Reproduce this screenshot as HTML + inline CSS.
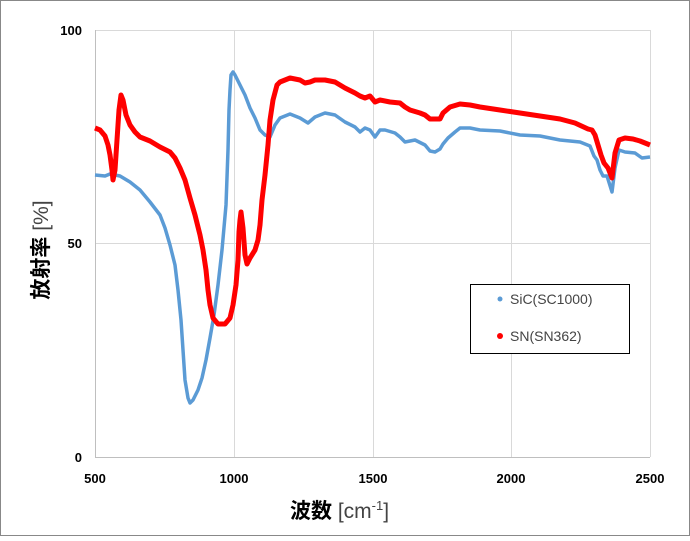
<!DOCTYPE html>
<html><head><meta charset="utf-8"><style>
body{margin:0;background:#fff}
svg text{font-family:"Liberation Sans","Noto Sans CJK JP",sans-serif}
</style></head><body>
<svg width="690" height="536" viewBox="0 0 690 536" xmlns="http://www.w3.org/2000/svg">
<rect x="0.5" y="0.5" width="689" height="535" fill="#fff" stroke="#888"/>
<g stroke="#d9d9d9" stroke-width="1">
<line x1="95" y1="30.5" x2="650" y2="30.5"/>
<line x1="95" y1="243.5" x2="650" y2="243.5"/>
<line x1="234.5" y1="30" x2="234.5" y2="457"/>
<line x1="373.5" y1="30" x2="373.5" y2="457"/>
<line x1="511.5" y1="30" x2="511.5" y2="457"/>
<line x1="650.5" y1="30" x2="650.5" y2="457"/>
</g>
<line x1="95.5" y1="30" x2="95.5" y2="457" stroke="#bfbfbf"/>
<line x1="95" y1="457.5" x2="650" y2="457.5" stroke="#bfbfbf"/>
<g font-size="13" font-weight="bold" fill="#000">
<text x="82" y="35" text-anchor="end">100</text>
<text x="82" y="248" text-anchor="end">50</text>
<text x="82" y="462" text-anchor="end">0</text>
<text x="95" y="483" text-anchor="middle">500</text>
<text x="234" y="483" text-anchor="middle">1000</text>
<text x="373" y="483" text-anchor="middle">1500</text>
<text x="511" y="483" text-anchor="middle">2000</text>
<text x="650" y="483" text-anchor="middle">2500</text>
</g>
<text x="290" y="518" font-size="21" font-weight="bold">波数<tspan font-weight="normal" fill="#444"> [cm</tspan><tspan font-weight="normal" font-size="13" dy="-8" fill="#444">-1</tspan><tspan font-weight="normal" dy="8" fill="#444">]</tspan></text>
<text transform="translate(48,250) rotate(-90)" text-anchor="middle" font-size="21" font-weight="bold">放射率<tspan font-weight="normal" fill="#444"> [%]</tspan></text>
<polyline fill="none" stroke="#5b9bd5" stroke-width="3.5" stroke-linejoin="round" points="95,175 105,176 110,174 120,176 130,182 140,190 150,202 160,215 165,228 170,245 175,265 178,290 181,320 183,350 185,380 188,398 190,403 193,400 198,390 202,378 206,360 210,338 214,315 218,285 222,250 226,205 228,150 229,110 230,90 231,75 233,72 235,75 240,85 245,95 250,108 255,118 260,130 265,135 270,137 275,125 280,118 290,114 300,118 308,123 315,117 325,113 335,115 345,122 355,127 360,132 365,128 370,130 375,137 380,130 385,130 395,133 400,137 405,142 415,140 425,145 430,151 435,152 440,149 443,144 448,138 455,132 460,128 470,128 480,130 500,131 520,135 540,136 560,140 580,142 590,146 594,156 597,160 600,170 603,176 607,176 612,192 615,168 619,150 625,152 635,153 642,158 650,157"/>
<polyline fill="none" stroke="#ff0000" stroke-width="5" stroke-linejoin="round" points="95,128 100,130 105,136 108,145 110,155 112,170 113,180 115,170 117,140 119,110 121,95 123,100 126,115 130,125 135,132 140,137 150,141 160,147 170,152 175,158 180,168 185,180 190,198 195,215 200,235 203,250 206,270 208,290 210,305 213,318 218,324 225,324 230,318 233,305 236,285 238,260 239,232 240,220 241,212 243,228 245,255 247,264 250,258 255,250 258,240 260,225 262,200 265,175 268,145 270,120 273,100 277,85 280,82 290,78 300,80 305,83 310,82 315,80 325,80 335,82 345,88 355,93 360,96 365,98 370,96 375,102 380,100 390,102 400,103 405,107 410,110 420,113 425,115 430,119 440,119 443,113 450,107 460,104 470,105 480,107 500,110 520,113 540,116 560,119 575,123 588,129 592,130 595,135 598,145 601,155 604,163 608,168 612,178 615,153 619,140 625,138 633,139 640,141 645,143 650,145"/>
<rect x="470.5" y="284.5" width="159" height="69" fill="#fff" stroke="#000"/>
<circle cx="500" cy="299" r="2.5" fill="#5b9bd5"/>
<circle cx="500" cy="336" r="3" fill="#ff0000"/>
<g font-size="14" fill="#444">
<text x="510" y="304">SiC(SC1000)</text>
<text x="510" y="341">SN(SN362)</text>
</g>
</svg>
</body></html>
